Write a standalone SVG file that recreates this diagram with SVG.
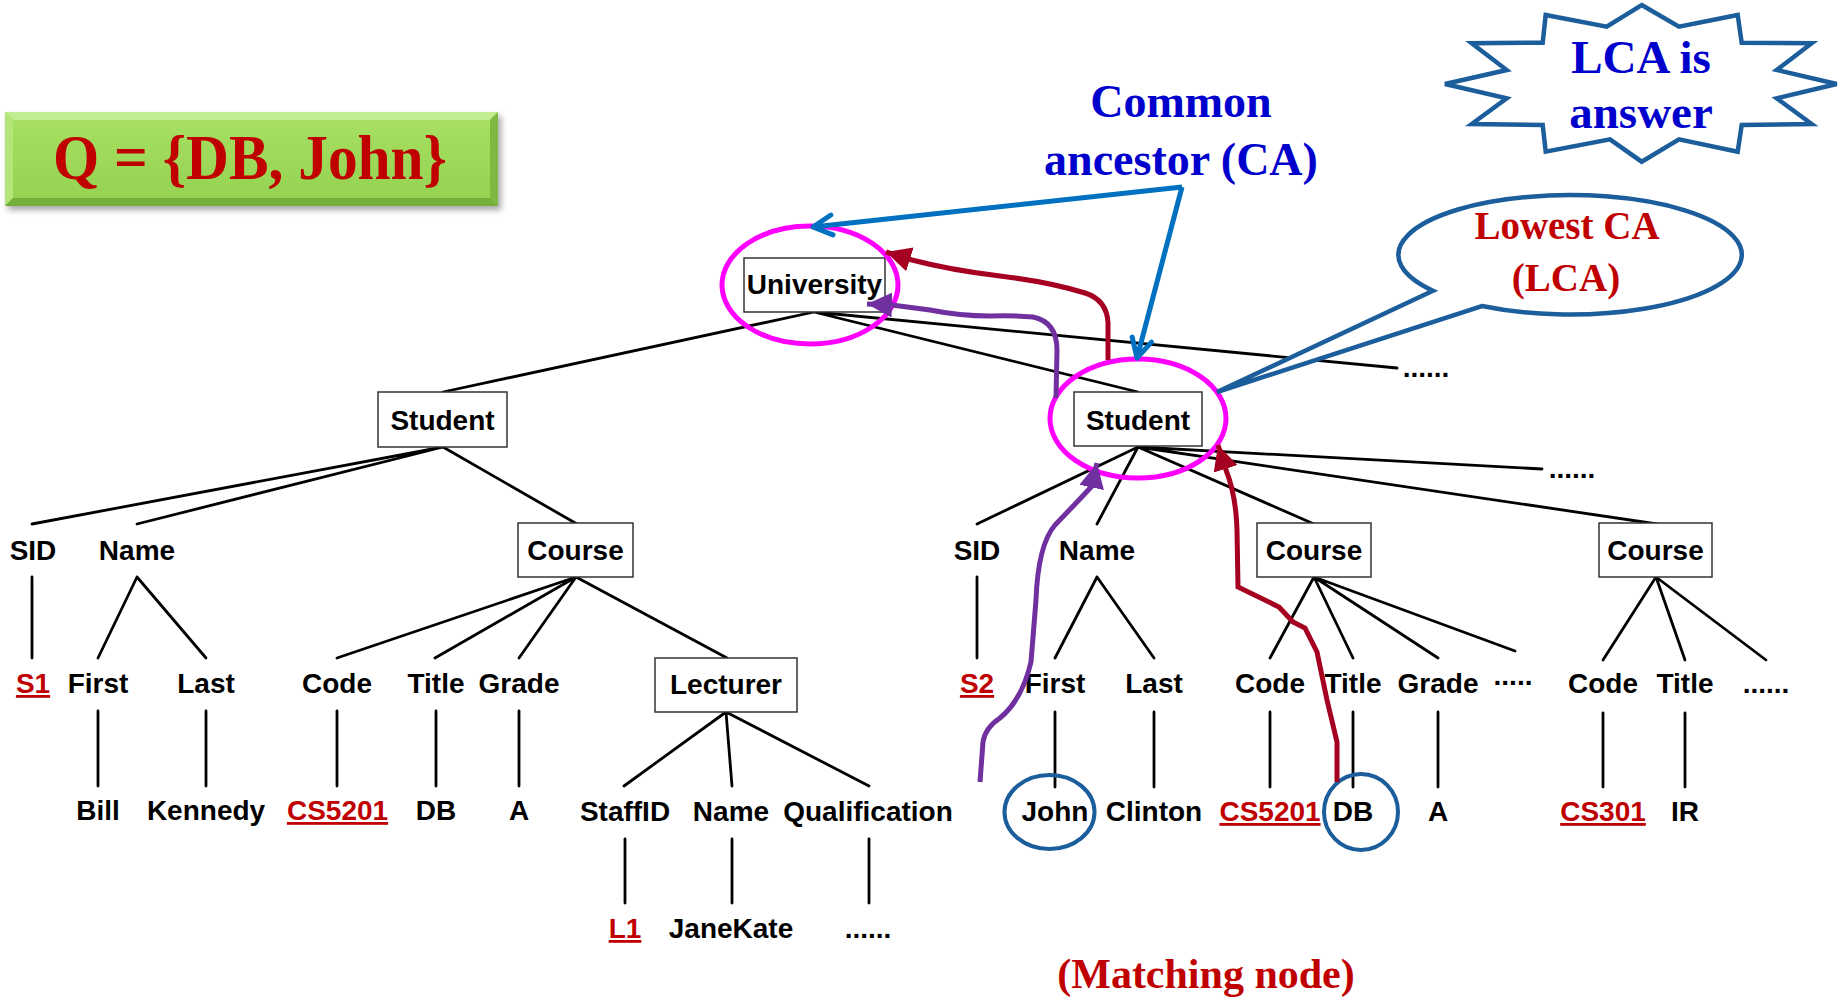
<svg xmlns="http://www.w3.org/2000/svg" width="1839" height="1001" viewBox="0 0 1839 1001">
  <style>
    .t { font-family: "Liberation Sans", Arial, sans-serif; font-weight: bold; font-size: 28px; fill: #000; text-anchor: middle; }
    .key { fill: #C00000; text-decoration: underline; }
    .box { fill: #fff; stroke: #333; stroke-width: 1.5; }
    .edge { stroke: #000; stroke-width: 2.8; fill: none; stroke-linecap: round; }
    .ring { fill: none; stroke: #FF00FF; stroke-width: 5; }
    .match { fill: none; stroke: #1B5E9B; stroke-width: 4; }
    .serif { font-family: "Liberation Serif", "Times New Roman", serif; font-weight: bold; text-anchor: middle; }
    .callout { fill: #fff; stroke: #1B5E9B; stroke-width: 4.5; stroke-linejoin: miter; }
    .purple { fill: none; stroke: #7030A0; stroke-width: 5; }
    .red { fill: none; stroke: #A50021; stroke-width: 5; }
    .blue { fill: none; stroke: #0070C0; stroke-width: 5; }
  </style>
  <defs>
    <marker id="headPurple" markerUnits="userSpaceOnUse" viewBox="0 0 25 25" refX="25" refY="12.5" markerWidth="25" markerHeight="25" orient="auto">
      <path d="M0,0 L25,12.5 L0,25 Z" fill="#7030A0"/>
    </marker>
    <marker id="headRed" markerUnits="userSpaceOnUse" viewBox="0 0 25 25" refX="25" refY="12.5" markerWidth="25" markerHeight="25" orient="auto">
      <path d="M0,0 L25,12.5 L0,25 Z" fill="#A50021"/>
    </marker>
    <marker id="headBlue" markerUnits="userSpaceOnUse" viewBox="-4 -4 30 30" refX="19" refY="11" markerWidth="30" markerHeight="30" orient="auto" overflow="visible">
      <path d="M0,1 L19,11 L0,21" fill="none" stroke="#0070C0" stroke-width="5" stroke-linecap="round" stroke-linejoin="round"/>
    </marker>
    <linearGradient id="qFill" x1="0" y1="0" x2="0" y2="1">
      <stop offset="0" stop-color="#A8E063"/>
      <stop offset="1" stop-color="#94D250"/>
    </linearGradient>
    <filter id="shadow" x="-10%" y="-20%" width="120%" height="150%">
      <feGaussianBlur stdDeviation="3"/>
    </filter>
  </defs>

  <!-- query banner -->
  <g id="query">
    <rect x="8" y="116" width="493" height="94" fill="#000" opacity="0.35" filter="url(#shadow)"/>
    <rect x="5" y="112" width="493" height="94" fill="url(#qFill)"/>
    <polygon points="5,112 498,112 490,120 13,120" fill="#C2EC90"/>
    <polygon points="5,112 13,120 13,198 5,206" fill="#B4E47A"/>
    <polygon points="498,112 498,206 490,198 490,120" fill="#7FB843"/>
    <polygon points="5,206 13,198 490,198 498,206" fill="#76AE3C"/>
    <text x="250" y="179" class="serif" font-size="64" fill="#C00000" textLength="394" lengthAdjust="spacingAndGlyphs">Q = {DB, John}</text>
  </g>

  <!-- tree edges -->
  <g id="edges">
    <path class="edge" d="M814,312 L443,392 M814,312 L1138,392 M814,312 L1397,368"/>
    <path class="edge" d="M443,447 L32,524 M443,447 L137,524 M443,447 L577,524"/>
    <path class="edge" d="M32,577 L32,658 M137,577 L98,658 M137,577 L206,658"/>
    <path class="edge" d="M576,577 L337,658 M576,577 L435,658 M576,577 L519,658 M576,577 L727,658"/>
    <path class="edge" d="M98,711 L98,786 M206,711 L206,786 M337,711 L337,786 M436,711 L436,786 M519,711 L519,786"/>
    <path class="edge" d="M726,712 L624,786 M726,712 L732,786 M726,712 L869,786"/>
    <path class="edge" d="M625,839 L625,903 M732,839 L732,903 M869,839 L869,903"/>
    <path class="edge" d="M1138,447 L977,524 M1138,447 L1097,524 M1138,447 L1314,524 M1138,447 L1542,469 M1138,447 L1657,524"/>
    <path class="edge" d="M977,577 L977,658 M1097,577 L1055,658 M1097,577 L1154,658"/>
    <path class="edge" d="M1314,577 L1270,658 M1314,577 L1353,658 M1314,577 L1438,658 M1314,577 L1515,651"/>
    <path class="edge" d="M1656,577 L1603,660 M1656,577 L1685,660 M1656,577 L1766,660"/>
    <path class="edge" d="M1055,712 L1055,787 M1154,712 L1154,787 M1270,712 L1270,787 M1353,712 L1353,787 M1438,712 L1438,787 M1603,713 L1603,787 M1685,713 L1685,787"/>
  </g>

  <!-- element boxes -->
  <g id="university"><rect class="box" x="744" y="258" width="141" height="54"/><text class="t" x="814.5" y="294">University</text></g>
  <g id="student1"><rect class="box" x="378" y="392" width="129" height="55"/><text class="t" x="442.5" y="430">Student</text></g>
  <g id="course1"><rect class="box" x="518" y="523" width="115" height="54"/><text class="t" x="575.5" y="560">Course</text></g>
  <g id="lecturer"><rect class="box" x="655" y="658" width="142" height="54"/><text class="t" x="726" y="694">Lecturer</text></g>
  <g id="student2"><rect class="box" x="1074" y="392" width="128" height="54"/><text class="t" x="1138" y="430">Student</text></g>
  <g id="course2"><rect class="box" x="1257" y="523" width="114" height="54"/><text class="t" x="1314" y="560">Course</text></g>
  <g id="course3"><rect class="box" x="1599" y="523" width="113" height="54"/><text class="t" x="1655.5" y="560">Course</text></g>

  <!-- left subtree labels -->
  <g id="sid1"><text class="t" x="33" y="560">SID</text></g>
  <g id="name1"><text class="t" x="137" y="560">Name</text></g>
  <g id="s1"><text class="t key" x="33" y="693">S1</text></g>
  <g id="first1"><text class="t" x="98" y="693">First</text></g>
  <g id="last1"><text class="t" x="206" y="693">Last</text></g>
  <g id="code1"><text class="t" x="337" y="693">Code</text></g>
  <g id="title1"><text class="t" x="436" y="693">Title</text></g>
  <g id="grade1"><text class="t" x="519" y="693">Grade</text></g>
  <g id="bill"><text class="t" x="98" y="820">Bill</text></g>
  <g id="kennedy"><text class="t" x="206" y="820">Kennedy</text></g>
  <g id="cs5201a"><text class="t key" x="337.5" y="820">CS5201</text></g>
  <g id="db1"><text class="t" x="436" y="820">DB</text></g>
  <g id="a1"><text class="t" x="519" y="820">A</text></g>
  <g id="staffid"><text class="t" x="625" y="821">StaffID</text></g>
  <g id="lname"><text class="t" x="731" y="821">Name</text></g>
  <g id="qualification"><text class="t" x="868" y="821">Qualification</text></g>
  <g id="l1"><text class="t key" x="625" y="938">L1</text></g>
  <g id="janekate"><text class="t" x="731" y="938">JaneKate</text></g>
  <g id="qmore"><text class="t" x="868" y="938">......</text></g>

  <!-- right subtree labels -->
  <g id="umore"><text class="t" x="1426" y="377">......</text></g>
  <g id="smore"><text class="t" x="1572" y="478">......</text></g>
  <g id="sid2"><text class="t" x="977" y="560">SID</text></g>
  <g id="name2"><text class="t" x="1097" y="560">Name</text></g>
  <g id="s2"><text class="t key" x="977" y="693">S2</text></g>
  <g id="first2"><text class="t" x="1055" y="693">First</text></g>
  <g id="last2"><text class="t" x="1154" y="693">Last</text></g>
  <g id="code2"><text class="t" x="1270" y="693">Code</text></g>
  <g id="title2"><text class="t" x="1353" y="693">Title</text></g>
  <g id="grade2"><text class="t" x="1438" y="693">Grade</text></g>
  <g id="cmore2"><text class="t" x="1513" y="685">.....</text></g>
  <g id="code3"><text class="t" x="1603" y="693">Code</text></g>
  <g id="title3"><text class="t" x="1685" y="693">Title</text></g>
  <g id="cmore3"><text class="t" x="1766" y="693">......</text></g>
  <g id="john"><text class="t" x="1055" y="821">John</text></g>
  <g id="clinton"><text class="t" x="1154" y="821">Clinton</text></g>
  <g id="cs5201b"><text class="t key" x="1270" y="821">CS5201</text></g>
  <g id="db2"><text class="t" x="1353" y="821">DB</text></g>
  <g id="a2"><text class="t" x="1438" y="821">A</text></g>
  <g id="cs301"><text class="t key" x="1603" y="821">CS301</text></g>
  <g id="ir"><text class="t" x="1685" y="821">IR</text></g>

  <!-- highlighted ancestors and matching nodes -->
  <g id="highlights">
    <ellipse class="ring" cx="810" cy="285" rx="88" ry="59"/>
    <ellipse class="ring" cx="1138" cy="418.5" rx="88" ry="59.5"/>
    <ellipse class="match" cx="1049.5" cy="812" rx="45" ry="37"/>
    <ellipse class="match" cx="1361" cy="812" rx="37" ry="38"/>
  </g>

  <!-- paths from matches up to ancestors -->
  <g id="paths">
    <path class="purple" d="M980,782 L983,742 Q985,728 1000,718 Q1022,700 1031,662 L1036,600 Q1038,545 1055,525 Q1082,497 1092,486 L1097,463" marker-end="url(#headPurple)"/>
    <path class="purple" d="M1056,398 L1057,350 Q1057,322 1033,317 Q1010,315 990,316 Q960,316 930,310 L892,305 L867,304" marker-end="url(#headPurple)"/>
    <path class="red" d="M1337,782 L1337,742 L1327,700 L1317,652 L1305,628 L1293,622 L1279,607 L1238,587 L1237,530 Q1236,495 1226,470 L1218,445" marker-end="url(#headRed)"/>
    <path class="red" d="M1108,360 L1108,323 Q1107,300 1085,293 Q1050,282 1000,276 Q950,270 912,260 L886,252" marker-end="url(#headRed)"/>
    <path class="blue" d="M1182,187 L813,227" marker-end="url(#headBlue)"/>
    <path class="blue" d="M1182,187 L1137,358" marker-end="url(#headBlue)"/>
  </g>

  <!-- annotations -->
  <g id="ca-label">
    <text class="serif" x="1181" y="117" font-size="46" fill="#0000CC">Common</text>
    <text class="serif" x="1181" y="175" font-size="46" fill="#0000CC">ancestor (CA)</text>
  </g>

  <g id="lca-callout">
    <path class="callout" d="M1433,290.7 L1217,392 L1482,306 A171.7,59.7 0 1 0 1433,290.7 Z"/>
    <text class="serif" x="1567" y="239" font-size="39" fill="#C00000">Lowest CA</text>
    <text class="serif" x="1566" y="291" font-size="39" fill="#C00000">(LCA)</text>
  </g>

  <g id="answer-burst">
    <polygon class="callout" points="1641.7,5 1679,26.7 1737.7,15 1741.7,42.7 1811.7,43.3 1776.7,70 1836.7,84 1776.7,98.3 1811.7,124 1741.7,125 1737.7,151.7 1679,139.3 1641.7,161.7 1610,139.3 1545.7,151.7 1542.7,125 1471.7,124 1506.7,98.3 1445,84 1506.7,70 1471.7,43.3 1542.7,42.7 1545.7,15 1606.7,26.7"/>
    <text class="serif" x="1641" y="73" font-size="47" fill="#0000CC">LCA is</text>
    <text class="serif" x="1641" y="128" font-size="47" fill="#0000CC">answer</text>
  </g>

  <g id="matching-label">
    <text class="serif" x="1206" y="988" font-size="42" fill="#C00000">(Matching node)</text>
  </g>
</svg>
